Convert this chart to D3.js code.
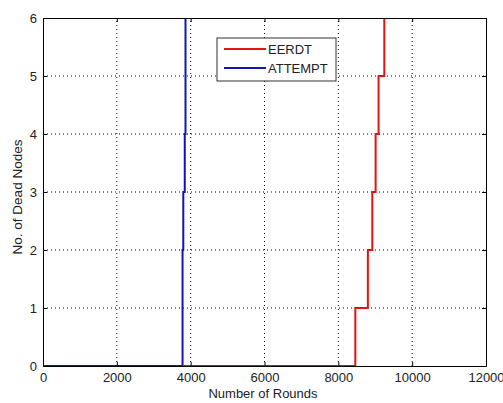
<!DOCTYPE html>
<html>
<head>
<meta charset="utf-8">
<script src="https://cdn.jsdelivr.net/npm/d3@7"></script>
<style>
  body { margin: 0; background: #fff; }
  text { font-family: "Liberation Sans", Arial, sans-serif; }
</style>
</head>
<body>
<div class="container"></div>
<script>
// step data: round at which the dead count reaches each value
const eerdtRounds = [3800, 8460, 8800, 8920, 9010, 9090, 9245];
const eerdtDead   = [0,    1,    2,    3,    4,    5,    6];
const attemptRounds = [0, 3780, 3800, 3840, 3860];
const attemptDead   = [0, 2,    3,    4,    6];
const xTicks = [0, 2000, 4000, 6000, 8000, 10000, 12000];
const yTicks = [0, 1, 2, 3, 4, 5, 6];
const seriesNames = ["EERDT", "ATTEMPT"];
const seriesColors = ["#e01414", "#1414b4"];

const w = 503, h = 403;
const padding = {left: 43, top: 18, right: 17, bottom: 37};

const svg = d3.select(".container").append("svg")
  .attr("width", w).attr("height", h);

const xScale = d3.scaleLinear().domain([0, 12000]).range([padding.left, w - padding.right]);
const yScale = d3.scaleLinear().domain([0, 6]).range([h - padding.bottom, padding.top]);

// dotted grid
svg.append("g").selectAll("line").data(xTicks.slice(1, -1)).enter().append("line")
  .attr("x1", d => xScale(d)).attr("x2", d => xScale(d))
  .attr("y1", yScale(0)).attr("y2", yScale(6))
  .attr("stroke", "#000").attr("stroke-width", 1).attr("stroke-dasharray", "1,3");
svg.append("g").selectAll("line").data(yTicks.slice(1, -1)).enter().append("line")
  .attr("x1", xScale(0)).attr("x2", xScale(12000))
  .attr("y1", d => yScale(d)).attr("y2", d => yScale(d))
  .attr("stroke", "#000").attr("stroke-width", 1).attr("stroke-dasharray", "1,3");

// lines: hold previous count, then jump at the listed round
const line = d3.line().x(d => xScale(d[0])).y(d => yScale(d[1])).curve(d3.curveStepAfter);
const eerdt = eerdtRounds.map((r, i) => [r, eerdtDead[i]]);
const attempt = attemptRounds.map((r, i) => [r, attemptDead[i]]);
svg.append("path").datum(eerdt).attr("d", line)
  .attr("fill", "none").attr("stroke", seriesColors[0]).attr("stroke-width", 2);
svg.append("path").datum(attempt).attr("d", line)
  .attr("fill", "none").attr("stroke", seriesColors[1]).attr("stroke-width", 2);

// axes (MATLAB style, ticks inward, box)
const xAxis = d3.axisBottom(xScale).tickValues(xTicks).tickFormat(d3.format("d"))
  .tickSizeInner(-4).tickSizeOuter(0).tickPadding(7);
const yAxis = d3.axisLeft(yScale).tickValues(yTicks).tickFormat(d3.format("d"))
  .tickSizeInner(-4).tickSizeOuter(0).tickPadding(6);
svg.append("g").attr("transform", "translate(0," + yScale(0) + ")").call(xAxis);
svg.append("g").attr("transform", "translate(" + xScale(0) + ",0)").call(yAxis);
svg.append("g").attr("transform", "translate(0," + yScale(6) + ")")
  .call(d3.axisTop(xScale).tickValues(xTicks).tickSizeInner(-4).tickSizeOuter(0).tickFormat(""));
svg.append("g").attr("transform", "translate(" + xScale(12000) + ",0)")
  .call(d3.axisRight(yScale).tickValues(yTicks).tickSizeInner(-4).tickSizeOuter(0).tickFormat(""));
svg.selectAll(".domain").attr("stroke", "#000");
svg.selectAll(".tick line").attr("stroke", "#000");
svg.selectAll(".tick text").attr("font-size", 13).attr("fill", "#222")
  .attr("font-family", "Liberation Sans, Arial, sans-serif");

// axis titles
svg.append("text").attr("x", 263).attr("y", 398)
  .attr("text-anchor", "middle").attr("font-size", 13).attr("fill", "#222").text("Number of Rounds");
svg.append("text").attr("transform", "translate(22,197) rotate(-90)")
  .attr("text-anchor", "middle").attr("font-size", 13.5).attr("fill", "#222").text("No. of Dead Nodes");

// legend
const lg = svg.append("g");
lg.append("rect").attr("x", 217).attr("y", 38).attr("width", 119).attr("height", 43)
  .attr("fill", "#fff").attr("stroke", "#333").attr("stroke-width", 1);
seriesNames.forEach((name, i) => {
  const yy = 49 + i * 19;
  lg.append("line").attr("x1", 224).attr("x2", 266).attr("y1", yy).attr("y2", yy)
    .attr("stroke", seriesColors[i]).attr("stroke-width", 2);
  lg.append("text").attr("x", 268).attr("y", yy + 5).attr("font-size", 13).attr("fill", "#222").text(name);
});
</script>
</body>
</html>
